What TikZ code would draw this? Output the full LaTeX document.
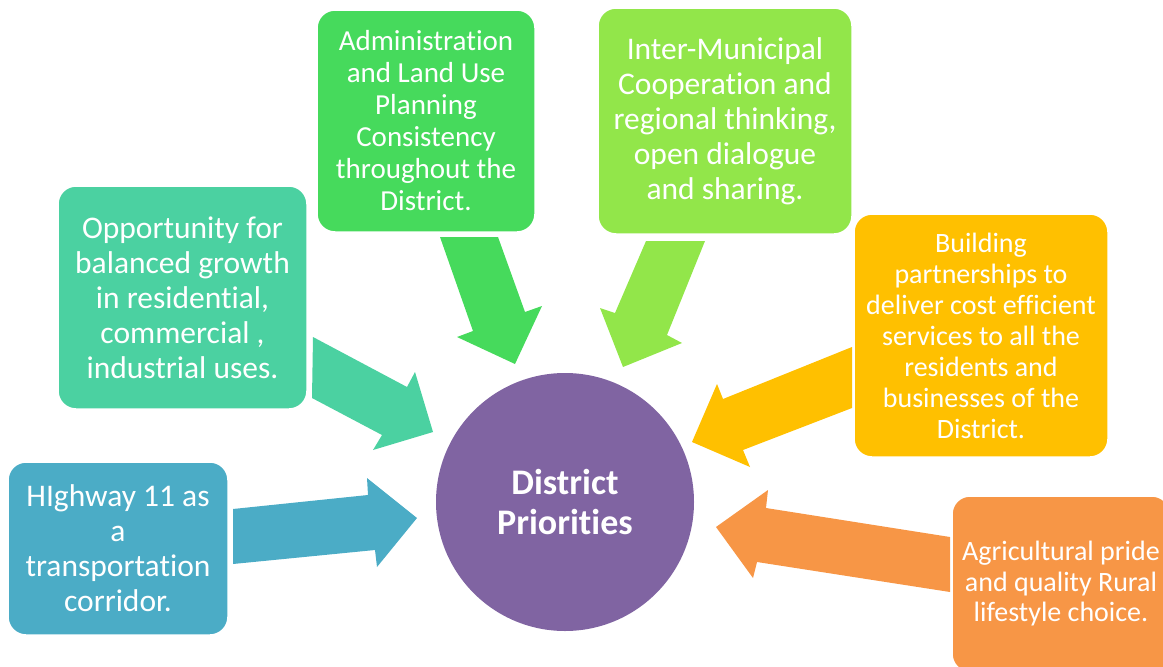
\documentclass[tikz,border=0pt]{standalone}
\usepackage{fontspec}
\setmainfont{Carlito}[Ligatures=NoCommon]
\definecolor{cblue}{HTML}{4BACC6}
\definecolor{cteal}{HTML}{4BD1A1}
\definecolor{cgreen}{HTML}{46DA5C}
\definecolor{clgreen}{HTML}{92E64A}
\definecolor{cyellow}{HTML}{FFC000}
\definecolor{corange}{HTML}{F79646}
\definecolor{cpurple}{HTML}{8064A2}
\tikzset{
  boxnode/.style={rectangle, rounded corners=18pt, draw=white, line width=1.5pt, inner sep=0pt, align=center, text=white},
  bigtext/.style={font=\fontsize{31.5}{35}\selectfont},
  midtext/.style={font=\fontsize{28}{31}\selectfont},
  blockarrow/.style={draw=none}
}
\begin{document}
\begin{tikzpicture}[x=1pt,y=-1pt]
\useasboundingbox (0,0) rectangle (1163,667);
\clip (0,0) rectangle (1163,667);
% block arrows
\fill[cblue] (233,509) -- (368,495) -- (367,478) -- (417,518) -- (377,567) -- (375,550) -- (233,564) -- cycle;
\fill[cteal] (313,337) -- (407,387) -- (415,372) -- (433,432) -- (373,450) -- (382,435) -- (312,398) -- cycle;
\fill[cgreen] (440,237) -- (498,237) -- (525,312) -- (542,306) -- (515,364) -- (457,337) -- (473,331) -- cycle;
\fill[clgreen] (646,241) -- (705,241) -- (667,335) -- (682,343) -- (623,367) -- (600,308) -- (615,313) -- cycle;
\fill[cyellow] (852,347) -- (852,408) -- (743,450) -- (750,467) -- (692,442) -- (717,384) -- (723,399) -- cycle;
\fill[corange] (950,537) -- (950,592) -- (757,562) -- (753,578) -- (716,527) -- (768,490) -- (766,508) -- cycle;
% boxes
\node[boxnode, bigtext, fill=cblue, minimum width=220pt, minimum height=173pt] (hwy) at (118,548.5)
  {HIghway 11 as\\a\\transportation\\corridor.};
\node[boxnode, bigtext, fill=cteal, minimum width=249pt, minimum height=223pt] (opp) at (182.5,297.5)
  {Opportunity for\\balanced growth\\in residential,\\commercial ,\\industrial uses.};
\node[boxnode, fill=cgreen, font=\fontsize{29}{32}\selectfont, minimum width=218pt, minimum height=222pt] (adm) at (426,121)
  {Administration\\and Land Use\\Planning\\Consistency\\throughout the\\District.};
\node[boxnode, bigtext, fill=clgreen, minimum width=254pt, minimum height=226pt] (imc) at (725,121)
  {Inter-Municipal\\Cooperation and\\regional thinking,\\open dialogue\\and sharing.};
\node[boxnode, midtext, fill=cyellow, minimum width=254pt, minimum height=243pt] (bld) at (981,335.5)
  {Building\\partnerships to\\deliver cost efficient\\services to all the\\residents and\\businesses of the\\District.};
\node[boxnode, font=\fontsize{28}{30.5}\selectfont, fill=corange, minimum width=218pt, minimum height=176pt] (agr) at (1061,584)
  {Agricultural pride\\and quality Rural\\lifestyle choice.};
% centre
\node[circle, fill=cpurple, minimum size=258pt, inner sep=0pt, align=center, text=white, font=\fontsize{36}{40}\selectfont\bfseries] (dp) at (565,502)
  {District\\Priorities};
\end{tikzpicture}
\end{document}
